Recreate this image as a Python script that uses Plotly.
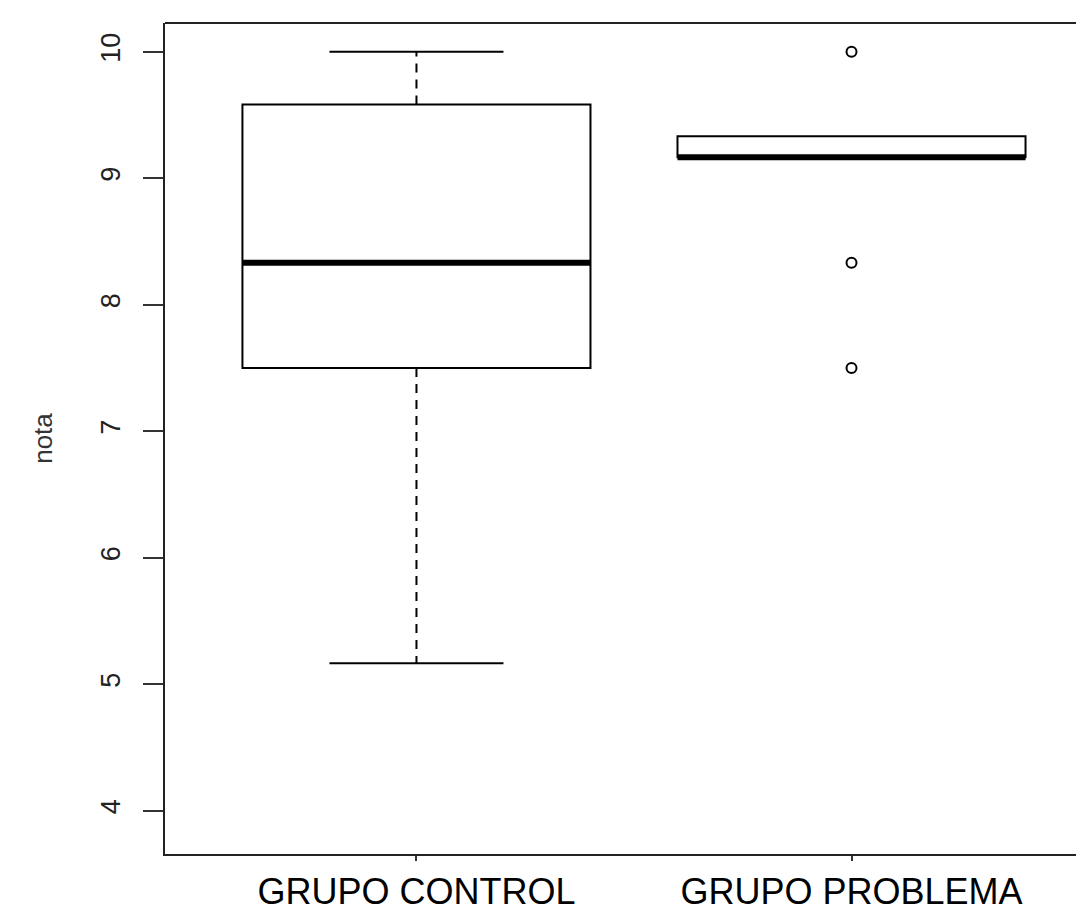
import plotly.graph_objects as go

# ---- data ----
groups = ["GRUPO CONTROL", "GRUPO PROBLEMA"]
positions = [1, 2]
q1 = [7.5, 9.167]
median = [8.333, 9.167]
q3 = [9.583, 9.333]
lower_whisker = [5.167, 9.167]
upper_whisker = [10.0, 9.333]
outlier_x = [2, 2, 2]
outlier_y = [10.0, 8.333, 7.5]
y_ticks = [4, 5, 6, 7, 8, 9, 10]

BOX_W = 0.8
CAP_W = 0.4
FONT = "Liberation Sans, Arial, sans-serif"

fig = go.Figure()

# box bodies (whiskers drawn separately so they can be dashed)
for i, g in enumerate(groups):
    fig.add_trace(go.Box(
        x=[positions[i]], q1=[q1[i]], median=[median[i]], q3=[q3[i]],
        lowerfence=[q1[i]], upperfence=[q3[i]],
        width=BOX_W, whiskerwidth=0.5,
        fillcolor="white", line=dict(color="black", width=2),
        boxpoints=False, showlegend=False, hoverinfo="skip", name=g,
    ))

for i in range(len(groups)):
    x = positions[i]
    # dashed whiskers
    if upper_whisker[i] > q3[i]:
        fig.add_trace(go.Scatter(x=[x, x], y=[q3[i], upper_whisker[i]], mode="lines",
                                 line=dict(color="black", width=2, dash="9px,7px"),
                                 showlegend=False, hoverinfo="skip"))
        fig.add_trace(go.Scatter(x=[x - CAP_W / 2, x + CAP_W / 2], y=[upper_whisker[i]] * 2,
                                 mode="lines", line=dict(color="black", width=2),
                                 showlegend=False, hoverinfo="skip"))
    if lower_whisker[i] < q1[i]:
        fig.add_trace(go.Scatter(x=[x, x], y=[q1[i], lower_whisker[i]], mode="lines",
                                 line=dict(color="black", width=2, dash="9px,7px"),
                                 showlegend=False, hoverinfo="skip"))
        fig.add_trace(go.Scatter(x=[x - CAP_W / 2, x + CAP_W / 2], y=[lower_whisker[i]] * 2,
                                 mode="lines", line=dict(color="black", width=2),
                                 showlegend=False, hoverinfo="skip"))
    # thick median
    fig.add_trace(go.Scatter(x=[x - BOX_W / 2, x + BOX_W / 2], y=[median[i]] * 2,
                             mode="lines", line=dict(color="black", width=6),
                             showlegend=False, hoverinfo="skip"))

# outliers
fig.add_trace(go.Scatter(x=outlier_x, y=outlier_y, mode="markers",
                         marker=dict(symbol="circle-open", size=10, color="black",
                                     line=dict(width=2, color="black")),
                         showlegend=False, hoverinfo="skip"))

# top border of the plot frame
fig.add_shape(type="line", xref="paper", yref="paper", x0=0, x1=1, y0=1, y1=1,
              line=dict(color="#222", width=2))

fig.update_layout(
    width=1076, height=912,
    margin=dict(l=165, r=0, t=23, b=55),
    plot_bgcolor="white", paper_bgcolor="white",
    font=dict(family=FONT, color="black"),
    xaxis=dict(
        range=[0.422, 2.516], tickmode="array", tickvals=positions, ticktext=groups,
        ticks="outside", ticklen=5, tickwidth=2, tickcolor="#333",
        showline=True, linecolor="#222", linewidth=2, showgrid=False, zeroline=False,
        tickfont=dict(size=36, color="black", family=FONT),
    ),
    yaxis=dict(
        range=[3.658, 10.228], tickmode="array", tickvals=y_ticks,
        ticks="outside", ticklen=20, tickwidth=2, tickcolor="#333",
        tickangle=-90, ticklabelstandoff=12,
        showline=True, linecolor="#222", linewidth=2, showgrid=False, zeroline=False,
        tickfont=dict(size=27, color="#222", family=FONT),
        title=dict(text="nota", font=dict(size=26, color="#333", family=FONT), standoff=36),
    ),
)

fig.write_html(
    "out.html",
    config={"displayModeBar": False},
    post_script="document.body.style.margin='0';document.body.style.overflow='hidden';",
)
